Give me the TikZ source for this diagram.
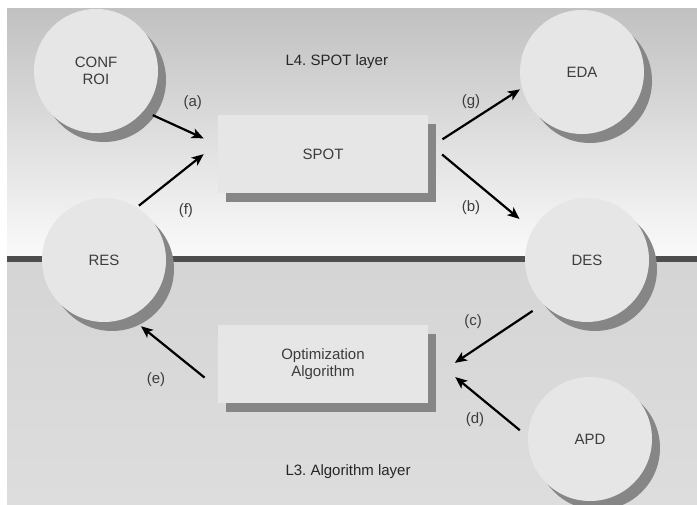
\documentclass[tikz,border=0pt]{standalone}
\usepackage{fontspec}
\setmainfont{Liberation Sans}
\usetikzlibrary{arrows.meta,shadows}
\frenchspacing
\definecolor{bandtop}{HTML}{C1C1C1}
\definecolor{bandbot}{HTML}{FAFAFA}
\definecolor{lowtop}{HTML}{D5D5D5}
\definecolor{lowbot}{HTML}{DDDDDD}
\definecolor{sepline}{HTML}{4E4E4E}
\definecolor{unitfill}{HTML}{E6E6E6}
\definecolor{shade}{HTML}{868686}
\definecolor{ink}{HTML}{3C3C3C}

\begin{document}
\begin{tikzpicture}[x=1pt,y=1pt,node distance=210pt,
    font=\fontsize{15}{17}\selectfont,text=ink,
    >={Stealth[length=12pt,width=10pt,inset=3pt]},
    unit/.style={circle,minimum size=124pt,inner sep=0pt,fill=unitfill,align=center,
      drop shadow={shadow xshift=8pt,shadow yshift=-9pt,fill=shade,opacity=1}},
    proc/.style={rectangle,minimum width=210pt,minimum height=78pt,inner sep=0pt,fill=unitfill,align=center,
      drop shadow={shadow xshift=8pt,shadow yshift=-9pt,fill=shade,opacity=1}},
    layer/.style={anchor=west,text=black!85},
    flow/.style={->,line width=2.2pt}]
      \useasboundingbox (0,0) rectangle (697,504);
      \shade[top color=bandtop,bottom color=bandbot] (7,248) rectangle (697,495);
      \shade[top color=lowtop,bottom color=lowbot] (7,0) rectangle (697,242);
      \fill[sepline] (7,242) rectangle (697,248);
      \node(L4)[layer] at (282,442){L4. SPOT layer};
      \node(L3)[layer] at (282,32){L3. Algorithm layer};
      \node(SPOT)[proc] at (323,350){SPOT};
      \node(OPT)[proc,below of=SPOT]{Optimization\\Algorithm};
      \node(CONF)[unit] at (96,433){CONF\\ROI};
      \node(RES)[unit] at (104,244){RES};
      \node(EDA)[unit] at (582,432){EDA};
      \node(DES)[unit] at (587,244){DES};
      \node(APD)[unit] at (590,65){APD};
      \path (CONF.-40) edge[flow,shorten <=10pt,shorten >=15.5pt] node[xshift=12pt,yshift=25pt]{(a)} (SPOT.175);
      \path (RES.58) edge[flow,shorten <=2.5pt,shorten >=18pt] node[xshift=8.5pt,yshift=-36pt]{(f)} (SPOT.174);
      \path (SPOT.3) edge[flow,shorten <=17pt,shorten >=2.4pt] node[xshift=-4pt,yshift=17pt]{(g)} (EDA.195);
      \path (SPOT.6) edge[flow,shorten <=18pt,shorten >=17pt] node[xshift=-9.4pt,yshift=-21.6pt]{(b)} (DES.151);
      \path (DES.225) edge[flow,shorten <=12.5pt,shorten >=32pt] node[xshift=-12.6pt,yshift=21pt]{(c)} (OPT.-9);
      \path (APD.178) edge[flow,shorten <=10.4pt,shorten >=35pt] node[xshift=-3pt,yshift=-24pt]{(d)} (OPT.5);
      \path (OPT.193) edge[flow,shorten <=17pt,shorten >=15pt] node[xshift=-17.6pt,yshift=-26.6pt]{(e)} (RES.-66);
    \end{tikzpicture}
\end{document}
